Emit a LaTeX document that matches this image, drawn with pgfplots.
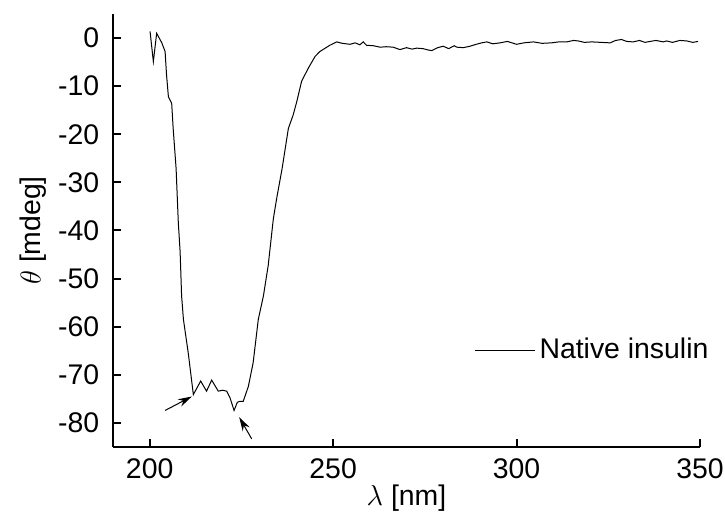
\documentclass[border=0pt]{standalone}
\usepackage{fontspec}
\setmainfont{Liberation Sans}
\usepackage{pgfplots}
\pgfplotsset{compat=1.18}
\usetikzlibrary{arrows.meta}

\pgfplotstableread{
x y
200.1 1.4
201.0 -4.9
201.9 1.0
203.3 -1.0
204.2 -2.8
204.6 -7.7
205.1 -12.2
206.0 -13.6
206.4 -18.8
207.2 -27.1
207.8 -38.3
208.3 -44.5
208.7 -53.6
209.2 -58.5
210.5 -65.4
211.9 -74.1
213.9 -71.3
215.5 -73.4
216.9 -71.1
218.7 -73.4
219.9 -73.2
221.0 -73.4
221.9 -74.8
223.0 -77.4
223.9 -75.7
224.6 -75.5
225.5 -75.5
226.9 -72.4
228.2 -67.5
229.6 -58.5
231.0 -53.6
232.3 -47.3
233.7 -37.6
234.6 -33.4
236.1 -27.1
237.8 -18.8
239.1 -16.0
240.1 -13.2
241.4 -9.0
243.2 -6.3
245.1 -3.8
246.4 -2.8
249.1 -1.5
251.0 -0.8
252.5 -1.1
254.6 -1.3
256.0 -1.0
257.3 -1.4
258.2 -0.8
259.1 -1.5
261.0 -1.6
262.8 -1.9
264.5 -1.8
266.4 -1.9
268.2 -2.4
270.0 -2.0
271.5 -2.3
272.8 -2.1
274.5 -2.2
276.0 -2.5
276.9 -2.6
278.5 -2.0
280.0 -1.7
281.5 -2.2
283.0 -1.6
283.7 -1.9
285.5 -2.0
287.3 -1.7
289.0 -1.3
290.5 -1.0
291.9 -0.8
293.5 -1.2
295.5 -1.0
297.5 -0.7
300.0 -1.3
302.0 -1.0
304.6 -0.8
307.0 -1.1
309.5 -1.0
311.5 -0.8
313.7 -0.8
315.5 -0.5
316.8 -0.6
318.5 -0.9
320.5 -0.8
323.0 -0.9
325.5 -1.0
327.0 -0.5
328.6 -0.3
330.0 -0.7
331.8 -0.8
333.5 -0.5
335.0 -0.9
336.4 -0.7
338.0 -0.5
340.0 -0.8
340.9 -0.6
342.5 -0.9
344.5 -0.5
346.4 -0.6
348.0 -0.9
349.5 -0.7
}\insulin

\begin{document}
\fontsize{14.2}{17}\selectfont
\begin{tikzpicture}
\useasboundingbox (0,0) rectangle (362.5pt,256.5pt);
\begin{axis}[
    at={(56.5pt,33pt)}, anchor=south west,
    scale only axis, width=293.5pt, height=216.5pt,
    xmin=190, xmax=350, ymin=-85, ymax=5,
    axis x line=bottom, axis y line=left,
    axis line style={-, line width=1pt},
    tick align=inside,
    major tick length=4pt,
    every tick/.style={black, line width=1pt},
    xtick={200,250,300,350},
    ytick={-80,-70,...,0},
    minor tick num=0,
    /pgf/number format/assume math mode=true,
    tick label style={font=\fontsize{14.2}{17}\selectfont},
    xticklabel style={yshift=-1pt},
    yticklabel style={xshift=-2pt},
    xlabel={$\lambda$ [nm]},
    ylabel={$\theta$ [mdeg]},
    xlabel style={at={(axis description cs:0.5,0)}, anchor=center, yshift=-25.5pt},
    ylabel style={at={(axis description cs:-0.136,0.5)}, anchor=center},
    legend style={draw=none, fill=none, at={(axis cs:353.5,-65)}, anchor=east,
        inner sep=0pt, font=\fontsize{14.2}{17}\selectfont},
    legend image code/.code={\draw[#1] (0pt,0pt) -- (30pt,0pt);},
  ]
  \addplot[black, line width=0.5pt] table[x=x, y=y] {\insulin};
  \addlegendentry{Native insulin}
  \draw[-{Stealth[length=7pt,width=4pt]}, line width=0.5pt]
    (axis cs:204.2,-77.4) -- (axis cs:211.5,-74.5);
  \draw[-{Stealth[length=7pt,width=4pt]}, line width=0.5pt]
    (axis cs:227.8,-83.3) -- (axis cs:224.4,-78.8);
\end{axis}
\end{tikzpicture}
\end{document}
